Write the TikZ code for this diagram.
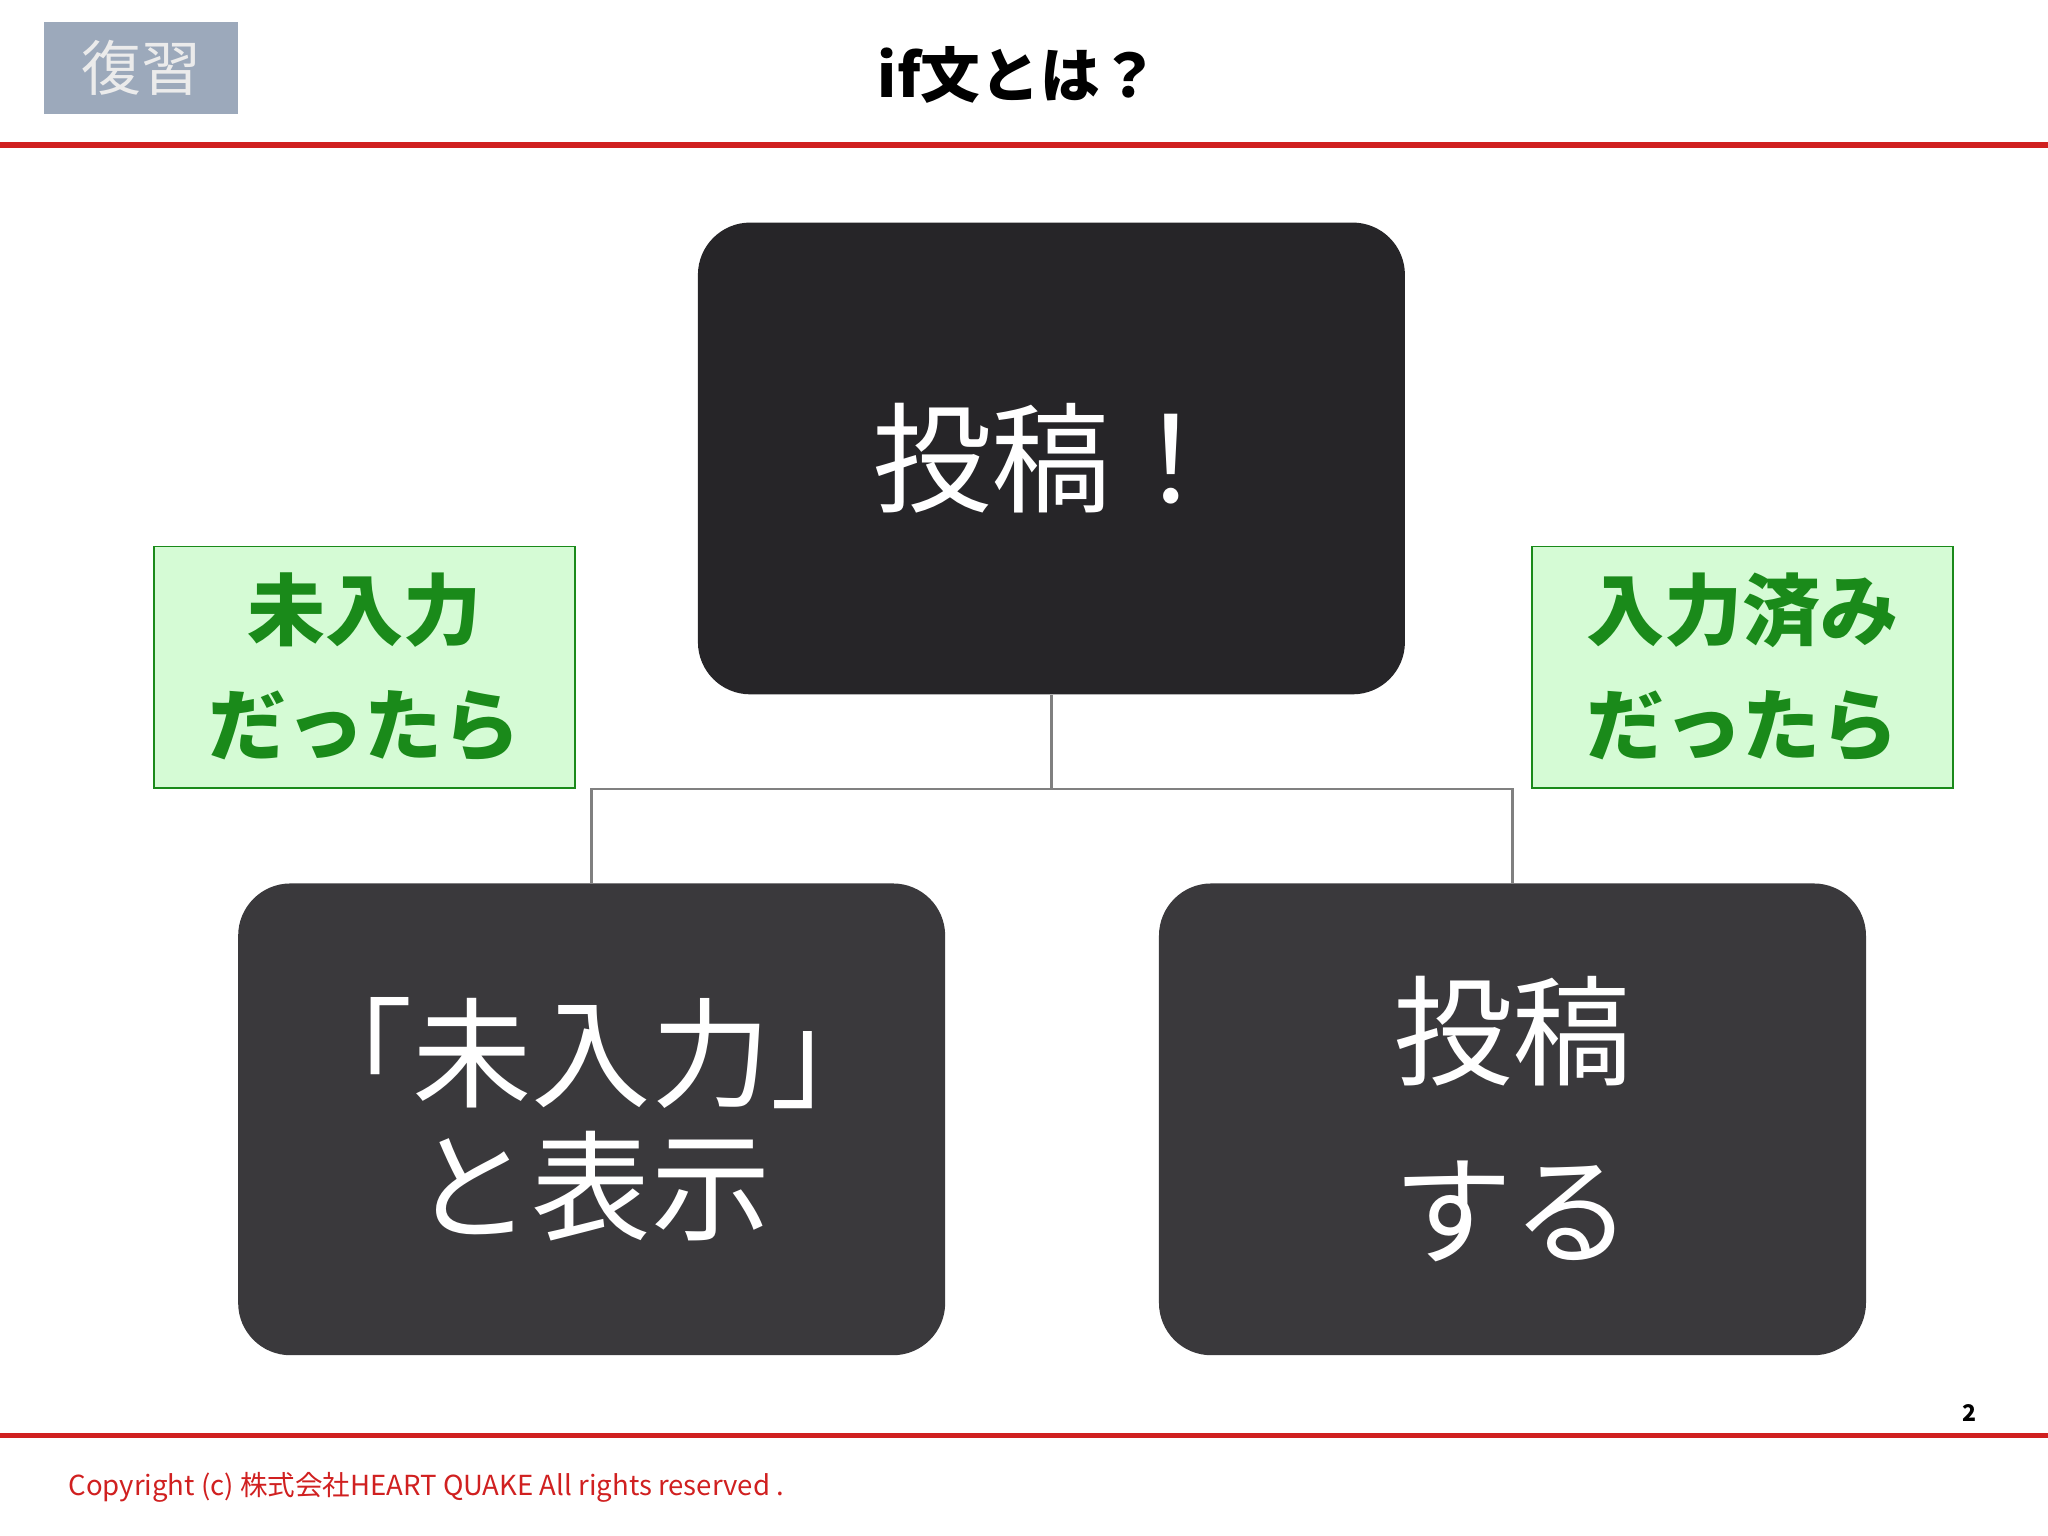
\documentclass[tikz,border=0pt]{standalone}
\usepackage{fontspec}
\setmainfont{Noto Sans CJK JP}
\usetikzlibrary{positioning}
\definecolor{boxdark}{HTML}{262528}
\definecolor{boxgray}{HTML}{3A393C}
\definecolor{tagfill}{HTML}{9CA9BB}
\definecolor{condfill}{HTML}{D5FBD5}
\definecolor{condtext}{HTML}{1A8A1A}
\definecolor{slidered}{HTML}{D02020}
\tikzset{
    x=0.01cm, y=-0.01cm,
    block/.style={rounded corners=0.4cm, minimum width=5.41cm, minimum height=3.61cm, text=white, align=center, font=\fontsize{26}{29}\selectfont}, % the black boxes
    cond/.style={draw=condtext, fill=condfill, minimum width=3.22cm, minimum height=1.85cm, text=condtext, align=center, font=\bfseries\fontsize{17}{25}\selectfont}, % the green labels
    link/.style={draw=gray, semithick},
}
\begin{document}
\begin{tikzpicture}
        \useasboundingbox (0,0) rectangle (1568,1176);
        % header
        \node[fill=tagfill, minimum width=1.48cm, minimum height=0.70cm, text=white!92!black, font=\fontsize{13}{15}\selectfont] (tag) at (108,52) {復習};
        \node[font=\bfseries\fontsize{13}{15}\selectfont] (title) at (780,57) {if文とは？};
        \draw[slidered, line width=1.2pt] (0,111) -- (1568,111);
        \draw[slidered, line width=1.2pt] (0,1099) -- (1568,1099);

        % boxes
        \node[block, fill=boxdark] (post) at (805,351) {投稿！};
        \node[block, fill=boxgray] (empty) at (453,857) {「未入力」\\と表示};
        \node[block, fill=boxgray, font=\fontsize{26}{39}\selectfont] (done) at (1158,857) {投稿\\する};
        \node[cond] (ifempty) at (279,511) {未入力\\だったら};
        \node[cond] (iffilled) at (1334,511) {入力済み\\だったら};

        % connectors
        \coordinate (fork) at (805,604);
        \draw[link] (post.south) -- (fork) -| (empty.north);
        \draw[link] (fork) -| (done.north);

        % footer
        \node[font=\bfseries\fontsize{5}{6}\selectfont] (page) at (1508,1082) {2};
        \node[anchor=west, text=slidered, font=\fontsize{6}{8}\selectfont] (copy) at (40,1139) {Copyright (c) 株式会社HEART QUAKE All rights reserved .};
\end{tikzpicture}
\end{document}
